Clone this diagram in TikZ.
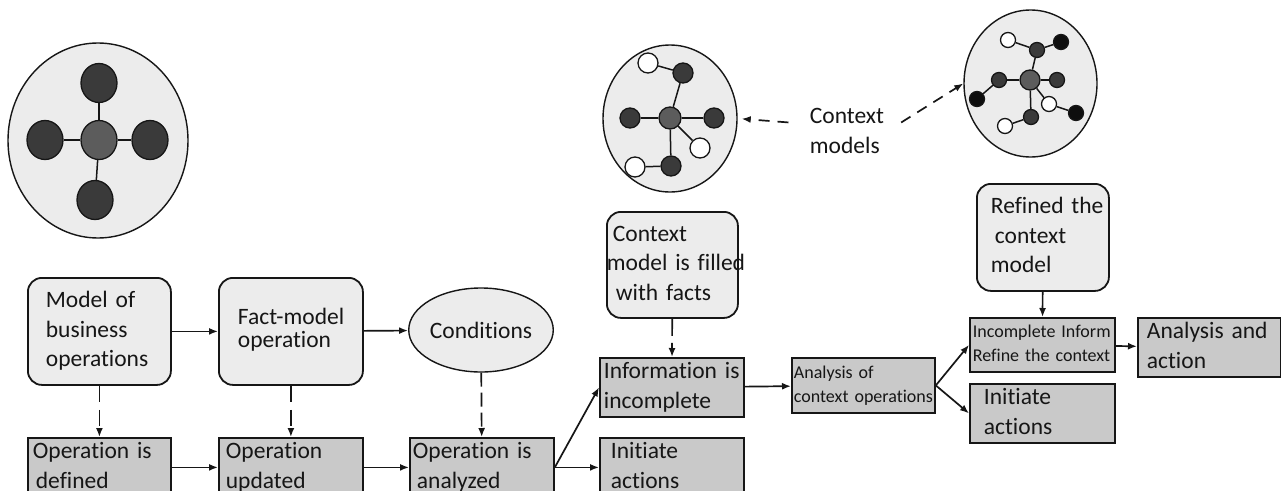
\documentclass[tikz,border=0pt]{standalone}
\usepackage{fontspec}
\setmainfont{Carlito}[Ligatures=NoCommon]
\usetikzlibrary{shapes.geometric,arrows.meta}

\definecolor{paper}{HTML}{ECECEC}
\definecolor{stepgray}{HTML}{C9C9C9}
\definecolor{ink}{HTML}{161616}
\definecolor{nodedark}{HTML}{3A3A3A}
\definecolor{nodemid}{HTML}{5C5C5C}
\definecolor{nodeblack}{HTML}{0E0E0E}

% unbreakable stack of left-aligned lines
\newcommand\textlines[1]{\begin{tabular}{@{}l@{}}#1\end{tabular}}

\begin{document}
\begin{tikzpicture}[x=1pt,y=-1pt,
  bigtext/.style={font=\fontsize{23.5}{29.5}\selectfont, text=ink},
  smalltext/.style={font=\fontsize{18}{24}\selectfont, text=ink},
  roundbox/.style={draw=ink, line width=1.8pt, fill=paper, rounded corners=14pt,
    anchor=north west, align=left, inner ysep=0pt, bigtext},
  stepbox/.style={draw=ink, line width=1.8pt, fill=stepgray, anchor=north west,
    align=left, inner ysep=0pt, minimum height=55pt, bigtext},
  flow/.style={-{Latex[length=9pt,width=7pt]}, line width=1.7pt, draw=ink},
  dflow/.style={flow, dash pattern=on 16pt off 8pt},
  cflow/.style={flow, dash pattern=on 11pt off 8pt},
  cloud/.style={ellipse, draw=ink, line width=1.4pt, fill=paper, inner sep=0pt},
  dot/.style={ellipse, draw=ink, line width=1.3pt, inner sep=0pt},
  hub/.style={dot, fill=nodemid},
  darkdot/.style={dot, fill=nodedark},
  blackdot/.style={dot, fill=nodeblack},
  whitedot/.style={dot, fill=white},
  spoke/.style={draw=ink, line width=1.5pt}
]
\useasboundingbox (0,0) rectangle (1281,490);
\clip (0,0) rectangle (1281,490);
\fill[white] (0,0) rectangle (1281,490);

% ---- business operation model (four satellites) ----
\node[cloud, minimum width=180pt, minimum height=195pt] (c1) at (98,140.5) {};
\begin{scope}[every node/.append style={minimum width=36pt, minimum height=39pt}]
  \node[hub]      (c1m) at (99,140) {};
  \node[darkdot]  (c1t) at (99,83)  {};
  \node[darkdot]  (c1l) at (45,140) {};
  \node[darkdot]  (c1r) at (150,140) {};
  \node[darkdot]  (c1b) at (95,200) {};
\end{scope}
\foreach \n in {c1t,c1l,c1r,c1b} \draw[spoke] (c1m) -- (\n);

% ---- first context model ----
\node[cloud, minimum width=134pt, minimum height=147pt] (c2) at (670,118.5) {};
\begin{scope}[every node/.append style={minimum width=20pt, minimum height=20pt}]
  \node[hub, minimum width=22pt, minimum height=22pt] (c2m) at (670,118) {};
  \node[darkdot]  (c2l)  at (630,118) {};
  \node[darkdot]  (c2r)  at (714,118) {};
  \node[darkdot]  (c2t)  at (683,73)  {};
  \node[whitedot] (c2tw) at (648,63)  {};
  \node[whitedot] (c2rw) at (700,148) {};
  \node[darkdot]  (c2b)  at (671,166) {};
  \node[whitedot] (c2bw) at (635,167) {};
\end{scope}
\foreach \a/\b in {c2m/c2l, c2m/c2r, c2m/c2t, c2t/c2tw, c2m/c2rw, c2m/c2b, c2b/c2bw}
  \draw[spoke] (\a) -- (\b);

% ---- refined context model ----
\node[cloud, minimum width=133pt, minimum height=147pt] (c3) at (1030.5,83.5) {};
\begin{scope}[every node/.append style={minimum width=15pt, minimum height=15pt}]
  \node[hub, minimum width=20pt, minimum height=20pt] (c3m) at (1030,80) {};
  \node[whitedot] (c3tw) at (1008,40)  {};
  \node[darkdot]  (c3t)  at (1037,50)  {};
  \node[blackdot] (c3tb) at (1061,42)  {};
  \node[darkdot]  (c3l)  at (999,80)   {};
  \node[blackdot] (c3lb) at (977,99)   {};
  \node[darkdot]  (c3r)  at (1057,80)  {};
  \node[whitedot] (c3rw) at (1049,104) {};
  \node[blackdot] (c3rb) at (1076,113) {};
  \node[darkdot]  (c3b)  at (1031,117) {};
  \node[whitedot] (c3bw) at (1005,126) {};
\end{scope}
\foreach \a/\b in {c3m/c3t, c3t/c3tw, c3t/c3tb, c3m/c3l, c3l/c3lb, c3m/c3r,
                   c3m/c3rw, c3rw/c3rb, c3m/c3b, c3b/c3bw}
  \draw[spoke] (\a) -- (\b);

\node[bigtext, align=left] (cm) at (847,131) {Context\\models};
\draw[cflow, shorten <=18pt, shorten >=4pt] (cm.170) -- (c2.east);
\draw[cflow, shorten <=16pt] (cm.east) -- (c3.west);

% ---- upper row ----
\node[roundbox, minimum height=107pt, inner xsep=18pt, text width=107pt] (mob) at (27,277)
  {\textlines{Model of\\business\\operations}};
\node[roundbox, minimum height=107pt, inner xsep=19pt, text width=106pt,
  font=\fontsize{23.5}{22}\selectfont] (fmo) at (218,277) {\textlines{Fact-model\\operation}};
\node[cloud, minimum width=112pt, minimum height=84pt, bigtext] (cond) at (481,330) {Conditions};
\node[roundbox, minimum height=106pt, inner xsep=6pt, text width=119pt] (ctx) at (606,211)
  {\textlines{Context\\\hspace*{-6pt}model is filled\\\hspace*{3pt}with facts}};
\node[roundbox, minimum height=107pt, inner xsep=14pt, text width=104pt] (ref) at (976,183)
  {\textlines{Refined the\\\hspace*{4pt}context\\model}};

% ---- process steps ----
\node[stepbox, inner xsep=5pt, text width=133pt] (opd) at (27,437)
  {\textlines{Operation is\\\hspace*{3pt}defined}};
\node[stepbox, inner xsep=7pt, text width=130pt] (opu) at (218,437)
  {\textlines{Operation\\updated}};
\node[stepbox, inner xsep=3pt, text width=138pt] (opa) at (409,437)
  {\textlines{Operation is\\\hspace*{4pt}analyzed}};
\node[stepbox, inner xsep=11pt, text width=122pt] (ini1) at (599,437)
  {\textlines{Initiate\\actions}};
\node[stepbox, inner xsep=4pt, text width=136pt] (inf) at (599,357)
  {\textlines{Information is\\incomplete}};
\node[stepbox, inner xsep=2pt, text width=139pt, smalltext] (aco) at (791,357)
  {\textlines{Analysis of\\context operations}};
\node[stepbox, inner xsep=3pt, text width=139pt, minimum height=54pt, smalltext] (inc) at (969,317)
  {\textlines{Incomplete Inform\\Refine the context}};
\node[stepbox, inner xsep=9pt, text width=125pt, minimum height=54pt] (aaa) at (1137,317)
  {\textlines{Analysis and\\action}};
\node[stepbox, inner xsep=14pt, text width=117pt] (ini2) at (969,383)
  {\textlines{Initiate\\actions}};

% ---- connectors ----
\draw[flow] (mob) -- (fmo);
\draw[flow] (fmo) -- (cond);
\draw[dflow] (mob) -- (opd);
\draw[dflow] (fmo) -- (opu);
\draw[dflow, dash pattern=on 14pt off 6pt] (cond) -- (opa);
\draw[flow] (opd) -- (opu);
\draw[flow] (opu) -- (opa);
\draw[flow] (opa) -- (ini1);
\draw[flow] (opa.east) -- (inf.west);
\draw[dflow, dash pattern=on 17pt off 7pt] (ctx) -- (inf);
\draw[flow] (inf) -- (aco);
\draw[flow] (aco.east) -- (inc.west);
\draw[flow] (aco.east) -- (ini2.west);
\draw[flow] (ref) -- (inc);
\draw[flow] (inc) -- (aaa);
\end{tikzpicture}
\end{document}
